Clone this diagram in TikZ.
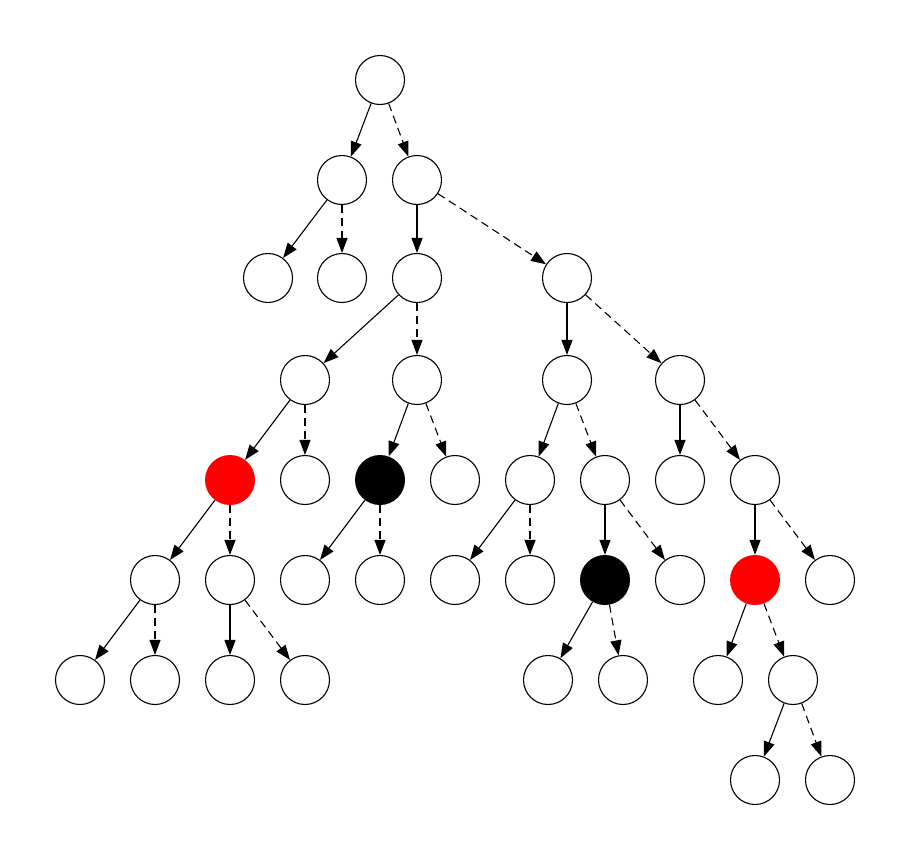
\documentclass[tikz,border=0pt]{standalone}
\usetikzlibrary{arrows.meta}
\begin{document}
\begin{tikzpicture}[x=1pt,y=-1pt,
  vtx/.style={circle,draw=black,line width=1.1pt,fill=white,minimum size=49pt,inner sep=0pt},
  redv/.style={circle,fill=red,minimum size=50pt,inner sep=0pt},
  blackv/.style={circle,fill=black,minimum size=50pt,inner sep=0pt},
  hi/.style={line width=1.1pt,-{Triangle[length=15pt,width=11pt]}},
  lo/.style={hi,dash pattern=on 8pt off 5pt}]
\useasboundingbox (0,0) rectangle (912,862);
% row 0
\node[vtx] (r) at (380,80) {};
% row 1
\node[vtx] (a1) at (342,180) {};
\node[vtx] (a2) at (417,180) {};
% row 2
\node[vtx] (b1) at (268,278) {};
\node[vtx] (b2) at (342,278) {};
\node[vtx] (b3) at (417,278) {};
\node[vtx] (b4) at (567,278) {};
% row 3
\node[vtx] (c1) at (305,380) {};
\node[vtx] (c2) at (417,380) {};
\node[vtx] (c3) at (567,380) {};
\node[vtx] (c4) at (680,380) {};
% row 4
\node[redv] (d1) at (230,480) {};
\node[vtx] (d2) at (305,480) {};
\node[blackv] (d3) at (380,480) {};
\node[vtx] (d4) at (455,480) {};
\node[vtx] (d5) at (530,480) {};
\node[vtx] (d6) at (605,480) {};
\node[vtx] (d7) at (680,480) {};
\node[vtx] (d8) at (755,480) {};
% row 5
\node[vtx] (e1) at (155,580) {};
\node[vtx] (e2) at (230,580) {};
\node[vtx] (e3) at (305,580) {};
\node[vtx] (e4) at (380,580) {};
\node[vtx] (e5) at (455,580) {};
\node[vtx] (e6) at (530,580) {};
\node[blackv] (e7) at (605,580) {};
\node[vtx] (e8) at (680,580) {};
\node[redv] (e9) at (755,580) {};
\node[vtx] (e10) at (830,580) {};
% row 6
\node[vtx] (f1) at (80,680) {};
\node[vtx] (f2) at (155,680) {};
\node[vtx] (f3) at (230,680) {};
\node[vtx] (f4) at (305,680) {};
\node[vtx] (f5) at (548,680) {};
\node[vtx] (f6) at (623,680) {};
\node[vtx] (f7) at (718,680) {};
\node[vtx] (f8) at (793,680) {};
% row 7
\node[vtx] (g1) at (755,780) {};
\node[vtx] (g2) at (830,780) {};
% edges
\draw[hi] (r) -- (a1);  \draw[lo] (r) -- (a2);
\draw[hi] (a1) -- (b1); \draw[lo] (a1) -- (b2);
\draw[hi] (a2) -- (b3); \draw[lo] (a2) -- (b4);
\draw[hi] (b3) -- (c1); \draw[lo] (b3) -- (c2);
\draw[hi] (b4) -- (c3); \draw[lo] (b4) -- (c4);
\draw[hi] (c1) -- (d1); \draw[lo] (c1) -- (d2);
\draw[hi] (c2) -- (d3); \draw[lo] (c2) -- (d4);
\draw[hi] (c3) -- (d5); \draw[lo] (c3) -- (d6);
\draw[hi] (c4) -- (d7); \draw[lo] (c4) -- (d8);
\draw[hi] (d1) -- (e1); \draw[lo] (d1) -- (e2);
\draw[hi] (d3) -- (e3); \draw[lo] (d3) -- (e4);
\draw[hi] (d5) -- (e5); \draw[lo] (d5) -- (e6);
\draw[hi] (d6) -- (e7); \draw[lo] (d6) -- (e8);
\draw[hi] (d8) -- (e9); \draw[lo] (d8) -- (e10);
\draw[hi] (e1) -- (f1); \draw[lo] (e1) -- (f2);
\draw[hi] (e2) -- (f3); \draw[lo] (e2) -- (f4);
\draw[hi] (e7) -- (f5); \draw[lo] (e7) -- (f6);
\draw[hi] (e9) -- (f7); \draw[lo] (e9) -- (f8);
\draw[hi] (f8) -- (g1); \draw[lo] (f8) -- (g2);
\end{tikzpicture}
\end{document}
